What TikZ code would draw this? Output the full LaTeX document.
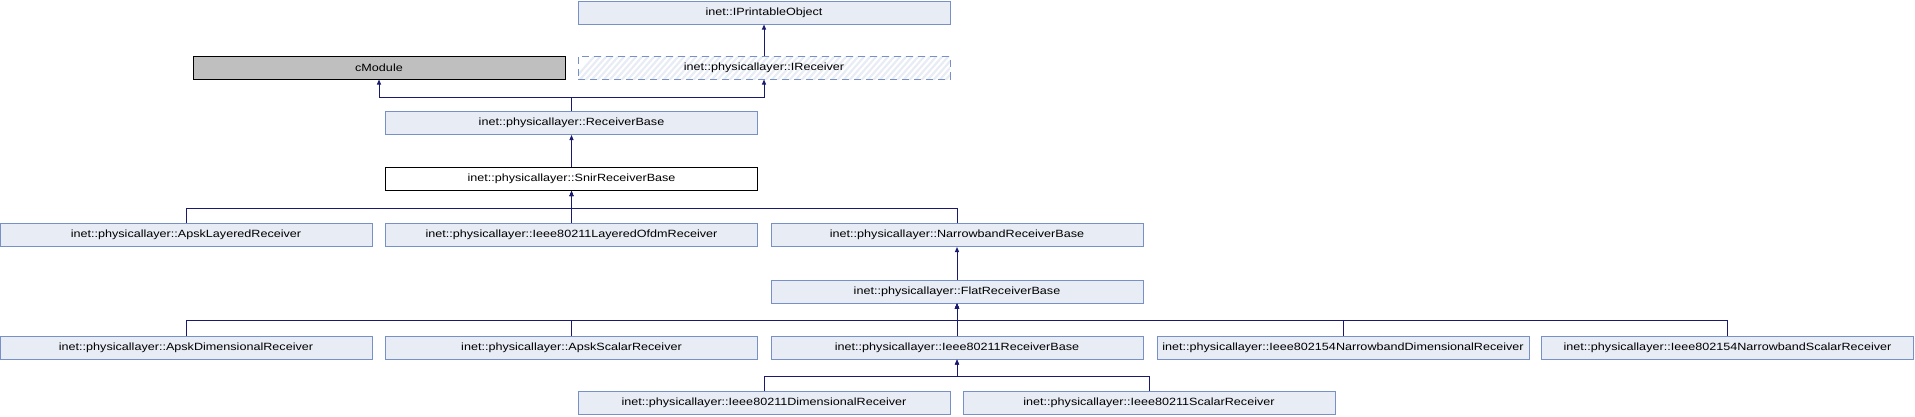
\documentclass[tikz,border=0pt]{standalone}
\usepackage{fontspec}
\setmainfont{Liberation Sans}[FakeStretch=1.2]
\usetikzlibrary{arrows.meta,positioning}
\definecolor{clsfill}{HTML}{E8ECF5}
\definecolor{clsline}{HTML}{7890C8}
\definecolor{edgeblue}{HTML}{191970}
\definecolor{extgray}{HTML}{BFBFBF}
\tikzset{every picture/.style={line width=1pt}}

\begin{document}
\begin{tikzpicture}[x=1pt,y=-1pt,
    cls/.style={draw=clsline, fill=clsfill, minimum width=372pt, minimum height=23pt,
                inner sep=0pt, font=\fontsize{10.5}{12}\selectfont},
    extcls/.style={cls, draw=black, fill=extgray},
    curcls/.style={cls, draw=black, fill=white},
    ifacecls/.style={cls, fill=none, dash pattern=on 7pt off 5pt},
    hatch/.style={clsfill, line width=2.2pt},
    inh/.style={draw=edgeblue, -{Triangle[length=5pt,width=4pt]}}]
    \useasboundingbox (0,0) rectangle (1915,416);

    % top of the hierarchy
    \node[cls] (printable) at (764,12.5) {inet::IPrintableObject};
    \node[extcls] (cmodule) at (379,67.5) {cModule};
    % hatched interface box
    \begin{scope}
        \clip (578,56) rectangle (950,79);
        \foreach \i in {0,6,...,400}
            \draw[hatch] (570+\i,84) -- (600+\i,50);
    \end{scope}
    \node[ifacecls] (ireceiver) at (764,67.5) {inet::physicallayer::IReceiver};

    % base classes
    \node[cls] (recbase) at (571.5,123) {inet::physicallayer::ReceiverBase};
    \node[curcls] (snirbase) at (571.5,179) {inet::physicallayer::SnirReceiverBase};

    % children of SnirReceiverBase
    \node[cls] (apsklayered) at (186,235) {inet::physicallayer::ApskLayeredReceiver};
    \node[cls] (ofdm) at (571.5,235) {inet::physicallayer::Ieee80211LayeredOfdmReceiver};
    \node[cls] (narrowband) at (957,235) {inet::physicallayer::NarrowbandReceiverBase};
    \node[cls] (flat) at (957,291.5) {inet::physicallayer::FlatReceiverBase};

    % children of FlatReceiverBase
    \node[cls] (apskdim) at (186,347.5) {inet::physicallayer::ApskDimensionalReceiver};
    \node[cls] (apskscalar) at (571.5,347.5) {inet::physicallayer::ApskScalarReceiver};
    \node[cls] (ieeebase) at (957,347.5) {inet::physicallayer::Ieee80211ReceiverBase};
    \node[cls] (nbdim) at (1343,347.5) {inet::physicallayer::Ieee802154NarrowbandDimensionalReceiver};
    \node[cls] (nbscalar) at (1727.5,347.5) {inet::physicallayer::Ieee802154NarrowbandScalarReceiver};

    % children of Ieee80211ReceiverBase
    \node[cls] (ieeedim) at (764,403) {inet::physicallayer::Ieee80211DimensionalReceiver};
    \node[cls] (ieeescalar) at (1149,403) {inet::physicallayer::Ieee80211ScalarReceiver};

    % join levels
    \coordinate (recjoin) at (0,97);
    \coordinate (snirjoin) at (0,208);
    \coordinate (flatjoin) at (0,320);
    \coordinate (ieeejoin) at (0,376);

    % inheritance edges
    \draw[inh] (ireceiver.north) -- (printable.south);
    \draw[inh] (recbase.north) -- (recbase.north |- recjoin) -| (cmodule.south);
    \draw[inh] (recbase.north) -- (recbase.north |- recjoin) -| (ireceiver.south);
    \draw[inh] (snirbase.north) -- (recbase.south);
    \foreach \c in {apsklayered,ofdm,narrowband}
        \draw[inh] (\c.north) -- (\c.north |- snirjoin) -| (snirbase.south);
    \draw[inh] (flat.north) -- (narrowband.south);
    \foreach \c in {apskdim,apskscalar,ieeebase,nbdim,nbscalar}
        \draw[inh] (\c.north) -- (\c.north |- flatjoin) -| (flat.south);
    \foreach \c in {ieeedim,ieeescalar}
        \draw[inh] (\c.north) -- (\c.north |- ieeejoin) -| (ieeebase.south);
\end{tikzpicture}
\end{document}
